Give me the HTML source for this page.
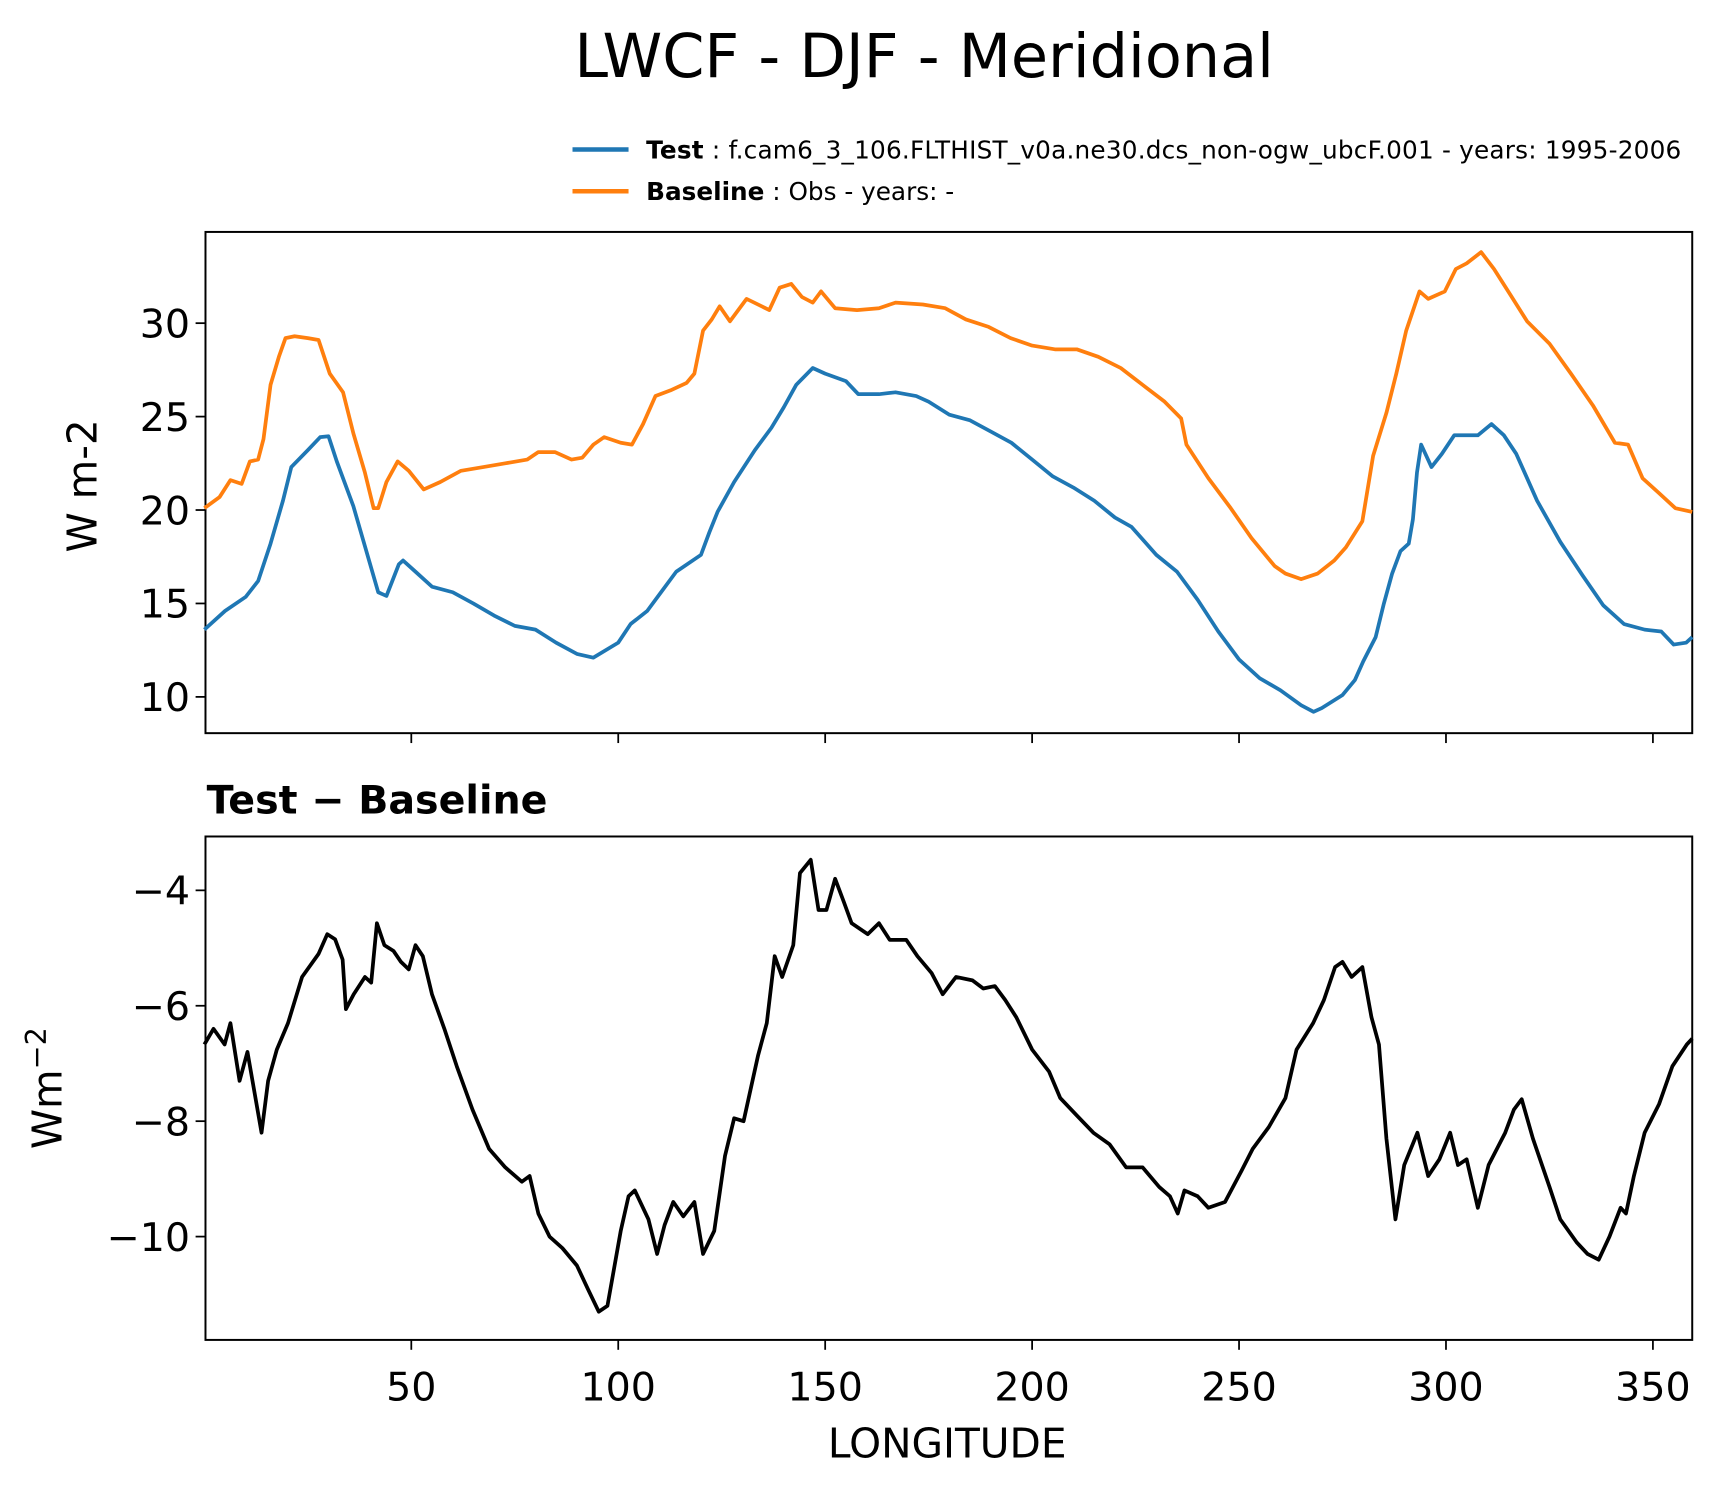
<!DOCTYPE html>
<html><head><meta charset="utf-8"><style>
html,body{margin:0;padding:0;background:#fff;}
svg{display:block;font-family:"DejaVu Sans","Liberation Sans",sans-serif;}
</style></head><body>
<svg id="chart" width="1723" height="1496" viewBox="0 0 1568 1361" preserveAspectRatio="none" xmlns="http://www.w3.org/2000/svg">
<text x="841" y="70" font-size="55" text-anchor="middle">LWCF - DJF - Meridional</text>
<g>
<line x1="521" y1="136" x2="572" y2="136" stroke="#1f77b4" stroke-width="4"/>
<text x="588" y="144" font-size="22.5" textLength="942"><tspan font-weight="bold">Test</tspan> : f.cam6_3_106.FLTHIST_v0a.ne30.dcs_non-ogw_ubcF.001 - years: 1995-2006</text>
<line x1="521" y1="174" x2="572" y2="174" stroke="#ff7f0e" stroke-width="4"/>
<text x="588" y="182" font-size="22.5"><tspan font-weight="bold">Baseline</tspan> : Obs - years: -</text>
</g>
<text transform="translate(88,442) rotate(-90)" font-size="37" text-anchor="middle">W m-2</text>
<text transform="translate(56,990) rotate(-90)" font-size="37" text-anchor="middle">Wm<tspan font-size="26" dy="-14">−2</tspan></text>
<text x="188" y="740" font-size="36" font-weight="bold">Test − Baseline</text>
<text x="862" y="1326" font-size="37" text-anchor="middle">LONGITUDE</text>
<g id="top"></g>
<g id="bot"></g>
</svg>
<script>
const xTicks=[50,100,150,200,250,300,350];
const topYTicks=[10,15,20,25,30];
const botYTicks=[-4,-6,-8,-10];
const testLon=[0,5,10,13,16,19,21,25,28,30,32,36,39,42,44,47,48,51,55,60,65,70,75,80,85,90,94,100,103,107,110,114,120,122,124,128,133,137,140,143,147,150,155,158,163,167,172,175,180,185,190,195,200,205,210,215,220,224,230,235,240,245,250,255,260,265,268,270,275,278,280,283,285,287,289,291,292,293,294,296.5,299,302,307.7,311,314,317,322,327.6,333,338,343,348,352,355,358,359.5];
const testVal=[13.6,14.6,15.35,16.2,18.2,20.5,22.3,23.2,23.9,23.95,22.6,20.2,17.9,15.6,15.4,17.1,17.3,16.7,15.9,15.6,15.0,14.35,13.8,13.6,12.9,12.3,12.1,12.9,13.9,14.6,15.5,16.7,17.6,18.8,19.9,21.5,23.2,24.4,25.5,26.7,27.6,27.3,26.9,26.2,26.2,26.3,26.1,25.8,25.1,24.8,24.2,23.6,22.7,21.8,21.2,20.5,19.6,19.1,17.6,16.7,15.2,13.5,12.0,11.0,10.35,9.55,9.2,9.4,10.1,10.9,11.9,13.2,15.0,16.6,17.8,18.2,19.5,22.0,23.5,22.3,23.0,24.0,24.0,24.6,24.0,23.0,20.5,18.3,16.5,14.9,13.9,13.6,13.5,12.8,12.9,13.2];
const baseLon=[0,3.7,6.3,9,11,13,14.3,16,18,19.6,21.8,25,27.6,30.3,33.5,36,38.8,40.9,42,44,46.7,49.4,53,57,62,67.4,72.7,78,80.7,84.7,88.7,91.3,94,96.6,100.6,103.3,106,109,112.6,116.5,118.4,120.5,122.6,124.5,127,131,136.5,139,141.8,144.4,147,149,152.4,157.7,163,167,173.6,179,184,189.5,194.8,200,205.5,210.8,216,221.4,226.7,232,236,237.3,242.6,248,253,258.6,261.2,265,269,273,275.8,279.8,282.4,285.6,288,290.4,293.6,295.7,299.7,302.4,305,308.5,311.6,315.6,319.6,325,330.2,335.5,340.8,344,347.5,351.5,355.4,359.5];
const baseVal=[20.1,20.7,21.6,21.4,22.6,22.7,23.8,26.7,28.2,29.2,29.3,29.2,29.1,27.3,26.3,24.1,22,20.1,20.1,21.5,22.6,22.1,21.1,21.5,22.1,22.3,22.5,22.7,23.1,23.1,22.7,22.8,23.5,23.9,23.6,23.5,24.6,26.1,26.4,26.8,27.3,29.6,30.2,30.9,30.1,31.3,30.7,31.9,32.1,31.4,31.1,31.7,30.8,30.7,30.8,31.1,31,30.8,30.2,29.8,29.2,28.8,28.6,28.6,28.2,27.6,26.7,25.8,24.9,23.5,21.7,20.1,18.5,17,16.6,16.3,16.6,17.3,18,19.4,22.9,25.2,27.3,29.6,31.7,31.3,31.7,32.9,33.2,33.8,32.9,31.5,30.1,28.9,27.3,25.6,23.6,23.5,21.7,20.9,20.1,19.9];
const diffLon=[0,2.2,4.9,6.3,8.5,10.4,13.8,15.4,17.5,20.2,23.6,27.6,29.7,31.6,33.4,34.2,36.1,38.8,40.3,41.7,43.5,45.7,47.5,49.4,51,52.8,55,58,61,64.8,68.8,72.7,76.7,78.6,80.7,83.4,86.5,90,92.6,95.3,97.4,100.6,102.5,104,107.3,109.4,111.2,113.3,115.7,118.4,120.5,123.2,125.8,128,130.3,133.8,135.9,137.8,139.6,142.3,143.9,146.5,148.4,150.3,152.4,154.5,156.4,160.3,163,165.6,169.6,172.3,175.7,178.4,181.6,185.6,188.2,191,193.5,196.2,200,204.1,206.8,210.8,214.8,218.7,222.7,226.7,230.7,233.3,235.2,236.8,240,242.6,246.6,250.6,253.3,257.2,261.2,263.9,267.9,270.5,273.2,275,277.2,279.8,282,283.8,285.6,287.8,289.9,293.1,295.7,298.4,301,302.9,305,307.7,310.3,314.3,316.4,318.3,321,325,327.6,331.6,334.2,336.9,339.5,342.2,343.5,345.4,348,351.5,354.7,358.2,359.5];
const diffVal=[-6.67,-6.4,-6.67,-6.3,-7.3,-6.8,-8.2,-7.3,-6.76,-6.3,-5.5,-5.1,-4.76,-4.85,-5.2,-6.06,-5.8,-5.5,-5.6,-4.57,-4.95,-5.05,-5.24,-5.37,-4.95,-5.14,-5.8,-6.4,-7.05,-7.8,-8.48,-8.8,-9.05,-8.95,-9.6,-10,-10.2,-10.5,-10.9,-11.3,-11.2,-9.9,-9.3,-9.2,-9.7,-10.3,-9.8,-9.4,-9.65,-9.4,-10.3,-9.9,-8.6,-7.95,-8,-6.86,-6.3,-5.14,-5.5,-4.95,-3.7,-3.47,-4.34,-4.34,-3.8,-4.2,-4.57,-4.76,-4.57,-4.86,-4.86,-5.14,-5.43,-5.8,-5.5,-5.56,-5.7,-5.66,-5.9,-6.2,-6.76,-7.14,-7.6,-7.9,-8.2,-8.4,-8.8,-8.8,-9.14,-9.3,-9.6,-9.2,-9.3,-9.5,-9.4,-8.86,-8.48,-8.1,-7.6,-6.76,-6.3,-5.9,-5.33,-5.24,-5.5,-5.33,-6.2,-6.67,-8.3,-9.7,-8.76,-8.2,-8.95,-8.66,-8.2,-8.76,-8.66,-9.5,-8.76,-8.2,-7.8,-7.62,-8.3,-9.14,-9.7,-10.1,-10.3,-10.4,-10,-9.5,-9.6,-8.95,-8.2,-7.7,-7.05,-6.67,-6.57];

const NS='http://www.w3.org/2000/svg';
const L=187,R=1540;
const xMin=0.27,xMax=359.5;
function xs(v){return L+(v-xMin)/(xMax-xMin)*(R-L);}
function mk(parent,tag,attrs){const e=document.createElementNS(NS,tag);for(const k in attrs)e.setAttribute(k,attrs[k]);parent.appendChild(e);return e;}

function panel(g,top,bot,ys,yTicks,labelX,series,name){
  mk(g,'rect',{x:L,y:top,width:R-L,height:bot-top,fill:'none',stroke:'#000','stroke-width':1.8});
  for(const t of yTicks){
    const y=ys(t);
    const tk=mk(g,'line',{x1:L-9,x2:L,y1:y,y2:y,stroke:'#000','stroke-width':1.6});
    
    
    const tl=mk(g,'text',{x:L-14,y:y+13,'font-size':36,'text-anchor':'end'});
    tl.textContent=String(t).replace('-','−');
    
    
  }
  for(const t of xTicks){
    const x=xs(t);
    const tk=mk(g,'line',{x1:x,x2:x,y1:bot,y2:bot+9,stroke:'#000','stroke-width':1.6});
    
    
    if(labelX){
      const tl=mk(g,'text',{x:x,y:bot+55,'font-size':36,'text-anchor':'middle'});
      tl.textContent=t;
      
      
    }
  }
  for(const s of series){
    const d=s.lon.map((v,i)=>(i?'L':'M')+xs(v).toFixed(1)+' '+ys(s.val[i]).toFixed(1)).join(' ');
    const p=mk(g,'path',{d:d,fill:'none',stroke:s.color,'stroke-width':3.4,'stroke-linejoin':'round'});
    
    
  }
}
const topG=document.getElementById('top');


panel(topG,211,667,v=>294+(30-v)*17,topYTicks,false,[
 {lon:baseLon,val:baseVal,color:'#ff7f0e',name:'baseline-line'},
 {lon:testLon,val:testVal,color:'#1f77b4',name:'test-line'}],'top');
const botG=document.getElementById('bot');


panel(botG,761,1219,v=>810+(-4-v)*52.5,botYTicks,true,[
 {lon:diffLon,val:diffVal,color:'#000',name:'difference-line'}],'bottom');
</script>
</body></html>
